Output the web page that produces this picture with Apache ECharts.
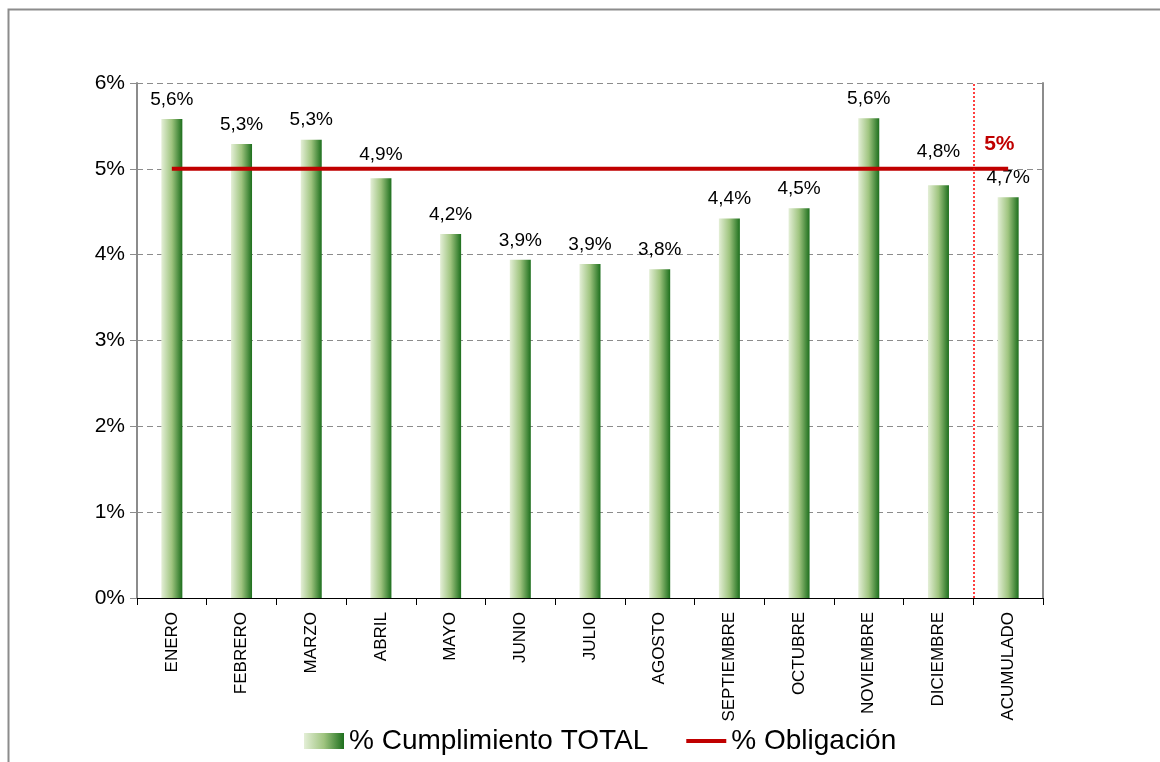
<!DOCTYPE html>
<html>
<head>
<meta charset="utf-8">
<script src="https://cdn.jsdelivr.net/npm/echarts@6/dist/echarts.min.js"></script>
<style>
  html, body { margin: 0; padding: 0; background: #fff; }
  #chart { width: 1160px; height: 762px; }
</style>
</head>
<body>
<div id="chart"></div>
<script>
const categories = ['ENERO', 'FEBRERO', 'MARZO', 'ABRIL', 'MAYO', 'JUNIO', 'JULIO', 'AGOSTO',
  'SEPTIEMBRE', 'OCTUBRE', 'NOVIEMBRE', 'DICIEMBRE', 'ACUMULADO']
const cumplimiento = [5.58, 5.29, 5.34, 4.89, 4.24, 3.94, 3.89, 3.83, 4.42, 4.54, 5.59, 4.81, 4.67]
const obligacion = [5, 5, 5, 5, 5, 5, 5, 5, 5, 5, 5, 5, 5]
const yTicks = [0, 1, 2, 3, 4, 5, 6]

const fontFamily = '"Liberation Sans", Arial, sans-serif'
const barGradient = new echarts.graphic.LinearGradient(0, 0, 1, 0, [
  { offset: 0, color: '#e4efd7' },
  { offset: 0.5, color: '#9fc47f' },
  { offset: 1, color: '#1d6f1d' },
])

const fmtPct = (v) => v.toFixed(1).replace('.', ',') + '%'

const chart = echarts.init(document.getElementById('chart'))

chart.setOption({
  backgroundColor: '#fff',
  animation: false,
  textStyle: { fontFamily },
  graphic: [
    {
      type: 'rect',
      shape: { x: 8.5, y: 9.5, width: 1300, height: 900 },
      style: { fill: 'none', stroke: '#8c8c8c', lineWidth: 2 },
      silent: true,
    },
  ],
  grid: { left: 137, right: 117, top: 83, bottom: 164 },
  legend: {
    left: 299,
    top: 722,
    itemWidth: 40,
    itemHeight: 16,
    itemGap: 38,
    textStyle: { fontSize: 28, color: '#000', fontFamily },
    data: [
      { name: '% Cumplimiento TOTAL', icon: 'rect' },
      { name: '% Obligación', icon: 'path://M0,0L40,0L40,4L0,4Z' },
    ],
  },
  xAxis: [
    {
      type: 'category',
      data: categories,
      boundaryGap: true,
      axisLine: { show: true, lineStyle: { color: '#000', width: 1 } },
      axisTick: { show: true, length: 7, lineStyle: { color: '#000' } },
      axisLabel: {
        rotate: 90,
        interval: 0,
        margin: 14,
        fontSize: 17,
        color: '#000',
        fontFamily,
      },
    },
    {
      // hidden helper axis, used only to place the separator before ACUMULADO
      type: 'value',
      min: 0,
      max: categories.length,
      show: false,
    },
  ],
  yAxis: [
    {
      type: 'value',
      min: yTicks[0],
      max: yTicks[yTicks.length - 1],
      interval: 1,
      axisLine: { show: true, lineStyle: { color: '#8c8c8c', width: 2 } },
      axisTick: { show: true, length: 7, lineStyle: { color: '#8c8c8c' } },
      axisLabel: { formatter: '{value}%', fontSize: 21, color: '#000', margin: 12, fontFamily },
      splitLine: { show: true, lineStyle: { color: '#8c8c8c', type: [6, 4], width: 1 } },
    },
    {
      type: 'value',
      position: 'right',
      min: yTicks[0],
      max: yTicks[yTicks.length - 1],
      interval: 1,
      axisLine: { show: true, lineStyle: { color: '#8c8c8c', width: 2 } },
      axisTick: { show: false },
      axisLabel: { show: false },
      splitLine: { show: false },
    },
  ],
  series: [
    {
      name: '% Cumplimiento TOTAL',
      type: 'bar',
      barWidth: 21,
      itemStyle: { color: barGradient },
      label: {
        show: true,
        position: 'top',
        distance: 10,
        fontSize: 19,
        color: '#000',
        fontFamily,
        formatter: (p) => fmtPct(p.value),
      },
      data: cumplimiento.map((v, i) => {
        if (categories[i] === 'DICIEMBRE')
          return { value: v, label: { offset: [0, -14] } }
        if (categories[i] === 'ABRIL')
          return { value: v, label: { offset: [0, -4] } }
        return v
      }),
      z: 2,
    },
    {
      name: '% Obligación',
      type: 'line',
      symbol: 'none',
      lineStyle: { color: '#c00000', width: 4 },
      itemStyle: { color: '#c00000' },
      endLabel: {
        show: true,
        offset: [-32, -25],
        fontSize: 21,
        fontWeight: 'bold',
        color: '#c00000',
        fontFamily,
        formatter: (p) => p.value + '%',
      },
      data: obligacion,
      z: 3,
    },
    {
      name: 'separador',
      type: 'line',
      xAxisIndex: 1,
      data: [],
      silent: true,
      color: '#ff0000',
      itemStyle: { color: '#ff0000' },
      markLine: {
        silent: true,
        symbol: 'none',
        label: { show: false },
        lineStyle: { color: '#ff0000', type: [2, 2], width: 1.5, opacity: 1 },
        data: [{ xAxis: categories.length - 1, lineStyle: { color: '#ff0000' } }],
      },
    },
  ],
})
</script>
</body>
</html>
